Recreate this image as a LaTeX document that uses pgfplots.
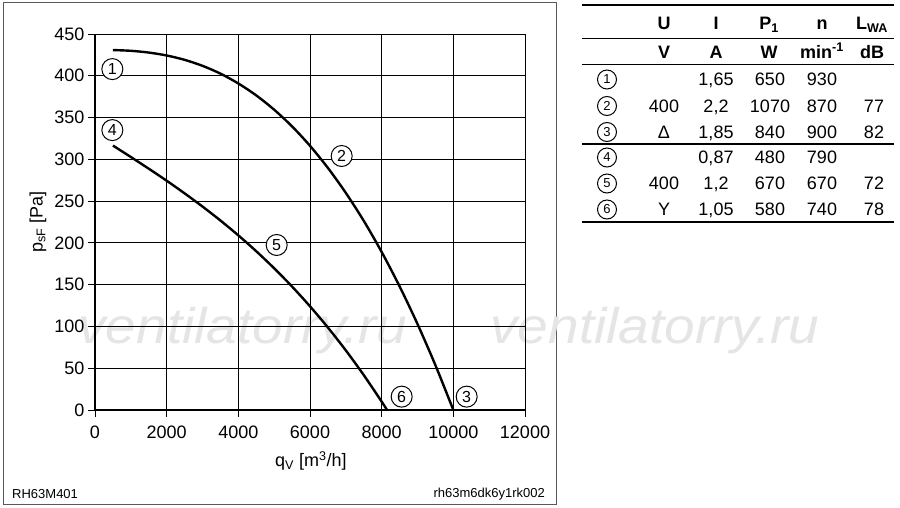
\documentclass[border=0pt]{standalone}
\usepackage{pgfplots}
\pgfplotsset{compat=1.18}
\usepackage{fontspec}
\setmainfont{Liberation Sans}
\definecolor{framec}{gray}{0.35}
\definecolor{wm}{gray}{0.9}
\begin{document}
\begin{tikzpicture}[
  lab/.style={circle, draw=black, line width=1pt, minimum size=21pt, inner sep=0pt, fill=white, font=\fontsize{16}{16}\selectfont},
  tlab/.style={circle, draw=black, line width=1pt, minimum size=19pt, inner sep=0pt, font=\fontsize{13}{13}\selectfont},
  cell/.style={font=\fontsize{18}{18}\selectfont, text height=13pt, text depth=0pt, inner sep=0pt, anchor=center}]
\path[use as bounding box] (0pt,0pt) rectangle (900pt,507pt);
\fill[white] (0pt,0pt) rectangle (900pt,507pt);
\draw[framec, line width=1pt] (3.5pt,3pt) rectangle (556pt,504pt);
% watermark
\node[wm, font=\fontsize{50}{50}\selectfont\itshape, xscale=1.1, anchor=center] at (243pt,176pt) {ventilatorry.ru};
\node[wm, font=\fontsize{50}{50}\selectfont\itshape, xscale=1.1, anchor=center] at (655pt,176pt) {ventilatorry.ru};
\begin{axis}[
  at={(95pt,97pt)}, anchor=south west, scale only axis,
  width=430pt, height=376pt,
  xmin=0, xmax=12000, ymin=0, ymax=450,
  xtick={0,2000,...,12000}, ytick={0,50,...,450},
  grid=major,
  major grid style={black, line width=1pt},
  axis line style={black, line width=1pt},
  tick style={black, line width=1pt},
  tick align=outside, tick pos=left, major tick length=7pt,
  ticklabel style={font=\fontsize{18}{18}\selectfont},
  xticklabel style={yshift=-5pt},
  /pgf/number format/assume math mode=true,
  /pgf/number format/1000 sep={},
  scaled ticks=false,
  xlabel={q\textsubscript{V} [m\textsuperscript{3}/h]},
  ylabel={p\textsubscript{sF} [Pa]},
  label style={font=\fontsize{18}{18}\selectfont},
  xlabel style={at={(axis description cs:0.502,-0.1356)}, anchor=center},
  ylabel style={at={(axis description cs:-0.1326,0.5)}, anchor=center},
  clip=false,
]
\addplot[black, line width=2.4pt, smooth] coordinates {(500,430.8)(1000,429.9)(1500,427.8)(2000,424.3)(2500,419.1)(3000,411.9)(3500,402.6)(4000,390.8)(4500,376.5)(5000,359.4)(5500,339.4)(6000,316.2)(6500,289.7)(7000,259.8)(7500,226.4)(8000,189.1)(8500,148)(9000,102.9)(9500,53.6)(10000,0)};
\addplot[black, line width=2.4pt, smooth] coordinates {(500,316.5)(1000,302.8)(1500,288.8)(2000,274.4)(2500,259.3)(3000,243.5)(3500,226.8)(4000,209)(4500,190)(5000,169.6)(5500,147.7)(6000,124.1)(6500,98.7)(7000,71.3)(7500,41.8)(8000,10)(8150,0)};
\node[lab] at (axis cs:484,408) {1};
\node[lab] at (axis cs:6884,304) {2};
\node[lab] at (axis cs:10372,16) {3};
\node[lab] at (axis cs:484,335) {4};
\node[lab] at (axis cs:5070,197.5) {5};
\node[lab] at (axis cs:8558,16) {6};
\end{axis}
% heavier left and bottom axis lines
\draw[black, line width=2pt] (95pt,473pt) -- (95pt,97pt) -- (525pt,97pt);
% footer
\node[font=\fontsize{13}{13}\selectfont, anchor=base west, inner sep=0pt] at (12pt,8.7pt) {RH63M401};
\node[font=\fontsize{13}{13}\selectfont, anchor=base east, inner sep=0pt] at (545pt,9.5pt) {rh63m6dk6y1rk002};
% table
\draw[line width=2pt] (582pt,502pt) -- (894pt,502pt);
\draw[line width=1pt] (582pt,468pt) -- (894pt,468pt);
\draw[line width=1pt] (582pt,442.7pt) -- (894pt,442.7pt);
\draw[line width=1.6pt] (582pt,363pt) -- (894pt,363pt);
\draw[line width=2pt] (582pt,285.3pt) -- (894pt,285.3pt);
\node[cell] at (664pt,483.7pt) {\textbf{U}};
\node[cell] at (716pt,483.7pt) {\textbf{I}};
\node[cell] at (769pt,483.7pt) {\textbf{P\textsubscript{1}}};
\node[cell] at (822pt,483.7pt) {\textbf{n}};
\node[cell] at (872pt,483.7pt) {\textbf{L\textsubscript{WA}}};
\node[cell] at (664pt,455.3pt) {\textbf{V}};
\node[cell] at (716pt,455.3pt) {\textbf{A}};
\node[cell] at (769pt,455.3pt) {\textbf{W}};
\node[cell] at (822pt,455.3pt) {\textbf{min\textsuperscript{-1}}};
\node[cell] at (872pt,455.3pt) {\textbf{dB}};
% rows
\node[tlab] at (607pt,427.5pt) {1};
\node[tlab] at (607pt,401pt) {2};
\node[tlab] at (607pt,375pt) {3};
\node[tlab] at (607pt,349.5pt) {4};
\node[tlab] at (607pt,323.5pt) {5};
\node[tlab] at (607pt,297.5pt) {6};
\node[cell] at (716pt,427.5pt) {1,65};
\node[cell] at (770pt,427.5pt) {650};
\node[cell] at (822pt,427.5pt) {930};
\node[cell] at (664pt,401pt) {400};
\node[cell] at (716pt,401pt) {2,2};
\node[cell] at (770pt,401pt) {1070};
\node[cell] at (822pt,401pt) {870};
\node[cell] at (874pt,401pt) {77};
\node[cell] at (664pt,375pt) {Δ};
\node[cell] at (716pt,375pt) {1,85};
\node[cell] at (770pt,375pt) {840};
\node[cell] at (822pt,375pt) {900};
\node[cell] at (874pt,375pt) {82};
\node[cell] at (716pt,349.5pt) {0,87};
\node[cell] at (770pt,349.5pt) {480};
\node[cell] at (822pt,349.5pt) {790};
\node[cell] at (664pt,323.5pt) {400};
\node[cell] at (716pt,323.5pt) {1,2};
\node[cell] at (770pt,323.5pt) {670};
\node[cell] at (822pt,323.5pt) {670};
\node[cell] at (874pt,323.5pt) {72};
\node[cell] at (664pt,297.5pt) {Y};
\node[cell] at (716pt,297.5pt) {1,05};
\node[cell] at (770pt,297.5pt) {580};
\node[cell] at (822pt,297.5pt) {740};
\node[cell] at (874pt,297.5pt) {78};
\end{tikzpicture}
\end{document}
